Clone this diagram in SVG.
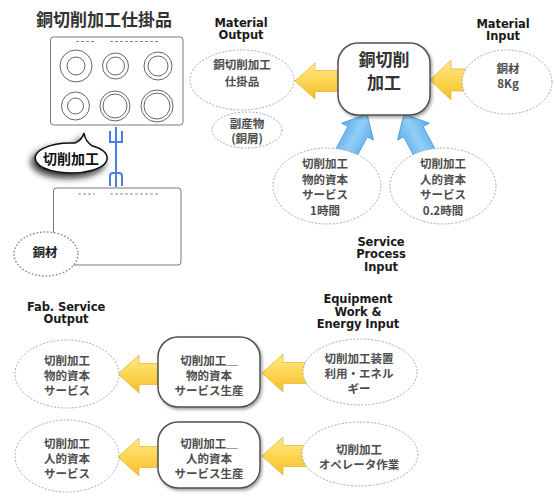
<svg xmlns="http://www.w3.org/2000/svg" width="555" height="500" viewBox="0 0 555 500">
  <defs>
    <style>
      .lbl { font-family: "DejaVu Sans", sans-serif; font-weight: bold; font-size: 11.5px; fill: #1a1a1a; text-anchor: middle; letter-spacing: -0.1px; }
      .jp { font-family: "Noto Sans CJK JP", sans-serif; font-weight: bold; font-size: 11.5px; fill: #4d4d4d; text-anchor: middle; }
      .ell { fill: #ffffff; stroke: #a0a0a0; stroke-width: 0.9; stroke-dasharray: 2 1.6; }
      .proc { fill: #ffffff; stroke: #505050; stroke-width: 1.5; filter: url(#shadow); }
      .ya { fill: url(#yel); stroke: #e8b83a; stroke-width: 0.8; }
      .ba { fill: url(#blu); stroke: #4d9ad8; stroke-width: 0.8; }
      .plate { fill: #ffffff; stroke: #7a7a7a; stroke-width: 1; }
      .ring { fill: none; stroke: #666666; stroke-width: 1; }
      .mark { fill: none; stroke: #8a8a8a; stroke-width: 1; stroke-dasharray: 3 2; }
      .fork { fill: none; stroke: #4a7fe0; stroke-width: 2; }
      .big { font-family: "Noto Sans CJK JP", sans-serif; font-weight: bold; font-size: 17px; fill: #333; text-anchor: middle; }
    </style>
    <linearGradient id="yel" x1="0" y1="0" x2="0" y2="1">
      <stop offset="0" stop-color="#ffe88e"/>
      <stop offset="0.5" stop-color="#fdd651"/>
      <stop offset="1" stop-color="#f2bd2c"/>
    </linearGradient>
    <linearGradient id="blu" x1="0" y1="0" x2="1" y2="0">
      <stop offset="0" stop-color="#58acea"/>
      <stop offset="0.5" stop-color="#92cff6"/>
      <stop offset="1" stop-color="#58acea"/>
    </linearGradient>
    <filter id="shadow" x="-20%" y="-20%" width="150%" height="150%">
      <feDropShadow dx="1.5" dy="2" stdDeviation="1.5" flood-color="#000" flood-opacity="0.35"/>
    </filter>
    <filter id="bubbleShadow" x="-30%" y="-40%" width="160%" height="200%">
      <feDropShadow dx="-3" dy="4" stdDeviation="3.5" flood-color="#111" flood-opacity="0.9"/>
    </filter>
  </defs>

  <!-- work-in-process sketch: finished plate over raw stock -->
  <g id="wip-sketch">
    <text x="104" y="26" style="font-family: 'Noto Sans CJK JP', sans-serif; font-weight: bold; font-size: 17px; fill: #333; text-anchor: middle;">銅切削加工仕掛品</text>
    <rect class="plate" x="50.5" y="37" width="132.5" height="88" rx="3"/>
    <path class="mark" d="M76,41.5 H94 M110,41.5 H160"/>
    <circle class="ring" cx="76" cy="66" r="16"/>
    <circle class="ring" cx="76" cy="66" r="9"/>
    <circle class="ring" cx="115.5" cy="66" r="13"/>
    <circle class="ring" cx="115.5" cy="66" r="9"/>
    <circle class="ring" cx="158" cy="66" r="14"/>
    <circle class="ring" cx="158" cy="66" r="10"/>
    <circle class="ring" cx="75.5" cy="106" r="14"/>
    <circle class="ring" cx="75.5" cy="106" r="8"/>
    <circle class="ring" cx="115" cy="106" r="15"/>
    <circle class="ring" cx="115" cy="106" r="12"/>
    <circle class="ring" cx="157" cy="106" r="16"/>
    <circle class="ring" cx="157" cy="106" r="13"/>

    <rect class="plate" x="53.5" y="188" width="127.5" height="77" rx="3"/>
    <path class="mark" d="M78,194 H95 M110,194 H158"/>

    <!-- machining link between the two plates -->
    <path class="fork" d="M116,127 V187 M110,131 V142 H122 V131 M110,186 V176 Q110,173 113,173 H119 Q122,173 122,176 V186"/>
  </g>

  <g id="cutting-bubble">
    <path d="M75,143.1 Q82,140 84,133 Q85,141 92,145.8 A36 15 0 1 1 75,143.1 Z" fill="#ffffff" stroke="#111" stroke-width="1.5" filter="url(#bubbleShadow)"/>
    <text x="71" y="164" style="font-family: 'Noto Sans CJK JP', sans-serif; font-weight: bold; font-size: 14px; fill: #111; text-anchor: middle;">切削加工</text>
  </g>

  <g id="raw-copper">
    <ellipse cx="46" cy="254" rx="32" ry="22" fill="#ffffff" stroke="#888" stroke-width="1.4" stroke-dasharray="0.5 3" stroke-linecap="round"/>
    <text x="45" y="257" style="font-family: 'Noto Sans CJK JP', sans-serif; font-weight: bold; font-size: 12.5px; fill: #222; text-anchor: middle;">銅材</text>
  </g>

  <!-- connectors -->
  <g id="connectors">
    <path class="ya" d="M295,81 L315,63 L315,70.5 L345,70.5 L345,91.5 L315,91.5 L315,99 Z"/>
    <path class="ya" d="M430,80 L451,60 L451,69 L470,69 L470,91 L451,91 L451,100 Z"/>
    <path class="ba" transform="translate(367,114) rotate(28)" d="M0,0 L18,20 L11,20 L11,52 L-11,52 L-11,20 L-18,20 Z"/>
    <path class="ba" transform="translate(404,114) rotate(-28)" d="M0,0 L18,20 L11,20 L11,52 L-11,52 L-11,20 L-18,20 Z"/>
    <path class="ya" d="M118,374 L139,355 L139,363.5 L165,363.5 L165,384.5 L139,384.5 L139,393 Z"/>
    <path class="ya" d="M262,373 L283,354 L283,362.5 L310,362.5 L310,383.5 L283,383.5 L283,392 Z"/>
    <path class="ya" d="M118,457 L139,438 L139,446.5 L165,446.5 L165,467.5 L139,467.5 L139,476 Z"/>
    <path class="ya" d="M262,456 L283,437 L283,445.5 L310,445.5 L310,466.5 L283,466.5 L283,475 Z"/>
  </g>

  <!-- material flow -->
  <g id="label-material-output">
    <text class="lbl" x="241" y="26.5">Material</text>
    <text class="lbl" x="241" y="39">Output</text>
  </g>
  <g id="material-output-wip">
    <ellipse class="ell" cx="242" cy="80" rx="52" ry="30"/>
    <text class="jp" x="242" y="68.5">銅切削加工</text>
    <text class="jp" x="242" y="86">仕掛品</text>
  </g>
  <g id="material-output-byproduct">
    <ellipse class="ell" cx="247" cy="130" rx="35" ry="18"/>
    <text class="jp" x="247" y="128">副産物</text>
    <text class="jp" x="247" y="143">(銅屑)</text>
  </g>
  <g id="copper-cutting">
    <rect class="proc" x="338" y="43" width="92" height="72" rx="20"/>
    <text class="big" x="384" y="66">銅切削</text>
    <text class="big" x="384" y="89">加工</text>
  </g>
  <g id="label-material-input">
    <text class="lbl" x="503" y="27.5">Material</text>
    <text class="lbl" x="503" y="40">Input</text>
  </g>
  <g id="material-input">
    <ellipse class="ell" cx="507" cy="82" rx="45" ry="32"/>
    <text class="jp" x="508" y="72.5">銅材</text>
    <text class="jp" x="508" y="88">8Kg</text>
  </g>

  <!-- service inputs to the cutting process -->
  <g id="service-physical">
    <ellipse class="ell" cx="327" cy="186" rx="54" ry="38"/>
    <text class="jp" x="325" y="168">切削加工</text>
    <text class="jp" x="325" y="183.5">物的資本</text>
    <text class="jp" x="325" y="199">サービス</text>
    <text class="jp" x="325" y="214.5">1時間</text>
  </g>
  <g id="service-human">
    <ellipse class="ell" cx="443" cy="186" rx="53" ry="38"/>
    <text class="jp" x="443" y="168">切削加工</text>
    <text class="jp" x="443" y="183.5">人的資本</text>
    <text class="jp" x="443" y="199">サービス</text>
    <text class="jp" x="443" y="214.5">0.2時間</text>
  </g>
  <g id="label-service-input">
    <text class="lbl" x="381" y="245.5">Service</text>
    <text class="lbl" x="381" y="258">Process</text>
    <text class="lbl" x="381" y="270.5">Input</text>
  </g>

  <!-- fabrication service production -->
  <g id="label-fab-output">
    <text class="lbl" x="66" y="310.5">Fab. Service</text>
    <text class="lbl" x="66" y="323">Output</text>
  </g>
  <g id="label-equipment-input">
    <text class="lbl" x="358" y="303">Equipment</text>
    <text class="lbl" x="358" y="315.5">Work &amp;</text>
    <text class="lbl" x="358" y="328">Energy Input</text>
  </g>

  <g id="fab-output-physical">
    <ellipse class="ell" cx="67" cy="374" rx="52" ry="34"/>
    <text class="jp" x="67" y="365">切削加工</text>
    <text class="jp" x="67" y="380">物的資本</text>
    <text class="jp" x="67" y="395">サービス</text>
  </g>
  <g id="produce-physical">
    <rect class="proc" x="158" y="337" width="102" height="70" rx="20"/>
    <text class="jp" x="209" y="365">切削加工＿</text>
    <text class="jp" x="209" y="380">物的資本</text>
    <text class="jp" x="209" y="395">サービス生産</text>
  </g>
  <g id="equipment-input">
    <ellipse class="ell" cx="360" cy="372" rx="57" ry="33"/>
    <text class="jp" x="359" y="362.5">切削加工装置</text>
    <text class="jp" x="359" y="377.5">利用・エネル</text>
    <text class="jp" x="359" y="392.5">ギー</text>
  </g>

  <g id="fab-output-human">
    <ellipse class="ell" cx="67" cy="456" rx="52" ry="36"/>
    <text class="jp" x="67" y="447.5">切削加工</text>
    <text class="jp" x="67" y="462.5">人的資本</text>
    <text class="jp" x="67" y="477.5">サービス</text>
  </g>
  <g id="produce-human">
    <rect class="proc" x="158" y="422" width="102" height="66" rx="20"/>
    <text class="jp" x="209" y="447.5">切削加工＿</text>
    <text class="jp" x="209" y="462.5">人的資本</text>
    <text class="jp" x="209" y="477.5">サービス生産</text>
  </g>
  <g id="operator-input">
    <ellipse class="ell" cx="360" cy="454" rx="58" ry="32"/>
    <text class="jp" x="359" y="453.5">切削加工</text>
    <text class="jp" x="359" y="468.5">オペレータ作業</text>
  </g>
</svg>
